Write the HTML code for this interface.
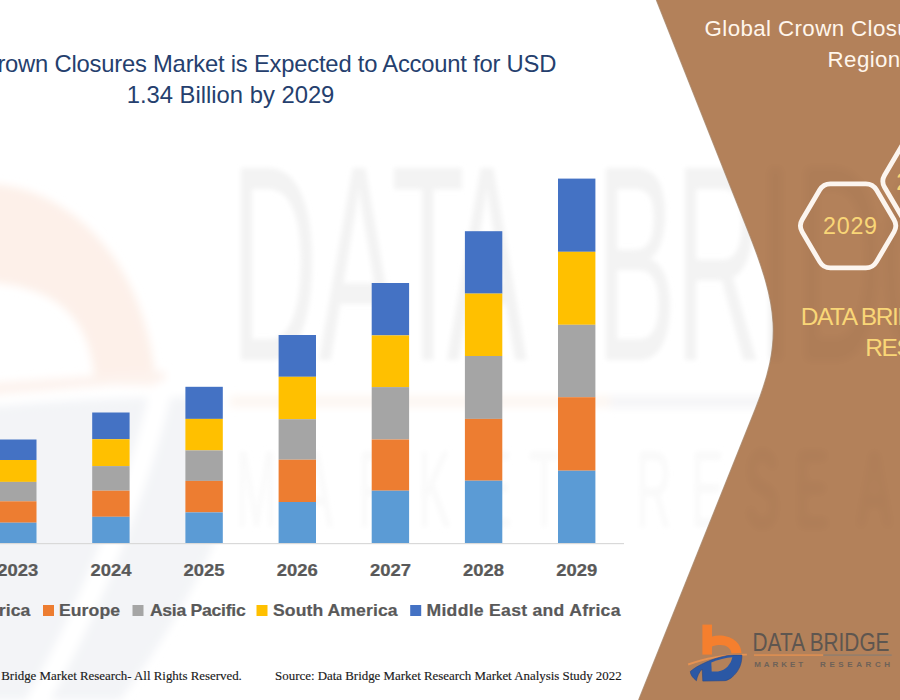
<!DOCTYPE html>
<html><head><meta charset="utf-8">
<style>
html,body{margin:0;padding:0;}
body{width:900px;height:700px;overflow:hidden;position:relative;background:#fff;}
svg{position:absolute;left:0;top:0;}
text{white-space:pre;}
</style></head>
<body>
<svg width="900" height="700" viewBox="0 0 900 700" font-family="'Liberation Sans', Arial, sans-serif">
  <defs>
    <filter id="bl" x="-20%" y="-20%" width="140%" height="140%"><feGaussianBlur stdDeviation="2.8"/></filter>
    <filter id="bl2" x="-20%" y="-20%" width="140%" height="140%"><feGaussianBlur stdDeviation="4"/></filter>
  </defs>
  <!-- faint watermark logo -->
  <g filter="url(#bl2)">
    <path d="M -10 184 C 60 186 145 250 156 385 L 95 385 C 92 320 60 288 -10 282 Z" fill="#FDF0E9"/>
    <path d="M -10 383 L 165 371 L 165 381 L -10 395 Z" fill="#FDF3EE"/>
    <path d="M -20 408 C 60 400 150 396 215 398 L 215 540 C 190 600 150 660 120 700 L -20 700 Z" fill="#F3F4F7"/>
    <path d="M 160 395 C 140 480 95 600 35 705" fill="none" stroke="#FFFFFF" stroke-width="22"/>
    <rect x="230" y="396" width="380" height="11" fill="#FDF6F1"/>
    <rect x="610" y="396" width="290" height="12" fill="#F5F5F7"/>
  </g>
  <g filter="url(#bl)">
    <text transform="scale(0.43 1)" y="360" x="537.58 741.32 910.01 1038.99 1386.42 1570.14 1764.95 1851.53 2044.11" font-size="279" fill="#F3F3F3">DATABRIDG</text>
    <text transform="scale(0.45 1)" y="527" x="524.39 666.45 795.5 928.84 1064.39 1175.33 1413.28 1535.5 1657.27 1768.84 1906.45" font-size="109" fill="#F9F9F9">MARKETRESEA</text>
  </g>
  <!-- brown panel -->
  <path d="M 656.4 0 L 748.08 230.94 C 778.04 306.41 782.56 341.18 755.15 409.54 L 638.67 700 L 900 700 L 900 0 Z" fill="#B3815A"/>
  <path d="M 656.4 0 L 748.08 230.94 C 778.04 306.41 782.56 341.18 755.15 409.54 L 638.67 700" fill="none" stroke="#A88466" stroke-width="1.2" opacity="0.8"/>
  <!-- watermark letters over brown (faint) -->
  <g filter="url(#bl2)" opacity="0.028">
    <text transform="scale(0.43 1)" y="360" x="1764.95 1851.53 2044.11" font-size="279" fill="#000">IDG</text>
    <text transform="scale(0.45 1)" y="527" x="1657.27 1768.84 1906.45" font-size="109" fill="#000">SEA</text>
  </g>

  <!-- title -->
  <g font-size="23.8" fill="#253F6E">
    <text x="556.2" y="71.7" text-anchor="end" letter-spacing="-0.22">Global Crown Closures Market is Expected to Account for USD</text>
    <text x="230.5" y="103.3" text-anchor="middle">1.34 Billion by 2029</text>
  </g>

  <!-- axis -->
  <rect x="0" y="543" width="624" height="1.2" fill="#D9D9D9"/>
  <!-- bars -->
<rect x="-0.9" y="439.5" width="37.4" height="20.5" fill="#4472C4"/>
<rect x="-0.9" y="460.0" width="37.4" height="21.9" fill="#FFC000"/>
<rect x="-0.9" y="481.9" width="37.4" height="19.4" fill="#A5A5A5"/>
<rect x="-0.9" y="501.3" width="37.4" height="21.4" fill="#ED7D31"/>
<rect x="-0.9" y="522.7" width="37.4" height="20.3" fill="#5B9BD5"/>
<rect x="92.2" y="412.5" width="37.4" height="26.7" fill="#4472C4"/>
<rect x="92.2" y="439.2" width="37.4" height="26.9" fill="#FFC000"/>
<rect x="92.2" y="466.1" width="37.4" height="24.6" fill="#A5A5A5"/>
<rect x="92.2" y="490.7" width="37.4" height="26.1" fill="#ED7D31"/>
<rect x="92.2" y="516.8" width="37.4" height="26.2" fill="#5B9BD5"/>
<rect x="185.4" y="386.8" width="37.4" height="32.1" fill="#4472C4"/>
<rect x="185.4" y="418.9" width="37.4" height="31.5" fill="#FFC000"/>
<rect x="185.4" y="450.4" width="37.4" height="30.5" fill="#A5A5A5"/>
<rect x="185.4" y="480.9" width="37.4" height="31.5" fill="#ED7D31"/>
<rect x="185.4" y="512.4" width="37.4" height="30.6" fill="#5B9BD5"/>
<rect x="278.6" y="335.0" width="37.4" height="41.8" fill="#4472C4"/>
<rect x="278.6" y="376.8" width="37.4" height="42.4" fill="#FFC000"/>
<rect x="278.6" y="419.2" width="37.4" height="40.5" fill="#A5A5A5"/>
<rect x="278.6" y="459.7" width="37.4" height="42.3" fill="#ED7D31"/>
<rect x="278.6" y="502.0" width="37.4" height="41.0" fill="#5B9BD5"/>
<rect x="371.7" y="283.0" width="37.4" height="52.4" fill="#4472C4"/>
<rect x="371.7" y="335.4" width="37.4" height="51.7" fill="#FFC000"/>
<rect x="371.7" y="387.1" width="37.4" height="52.4" fill="#A5A5A5"/>
<rect x="371.7" y="439.5" width="37.4" height="51.2" fill="#ED7D31"/>
<rect x="371.7" y="490.7" width="37.4" height="52.3" fill="#5B9BD5"/>
<rect x="464.9" y="231.2" width="37.4" height="62.4" fill="#4472C4"/>
<rect x="464.9" y="293.6" width="37.4" height="62.4" fill="#FFC000"/>
<rect x="464.9" y="356.0" width="37.4" height="62.9" fill="#A5A5A5"/>
<rect x="464.9" y="418.9" width="37.4" height="61.8" fill="#ED7D31"/>
<rect x="464.9" y="480.7" width="37.4" height="62.3" fill="#5B9BD5"/>
<rect x="558.0" y="178.6" width="37.4" height="73.2" fill="#4472C4"/>
<rect x="558.0" y="251.8" width="37.4" height="73.0" fill="#FFC000"/>
<rect x="558.0" y="324.8" width="37.4" height="72.4" fill="#A5A5A5"/>
<rect x="558.0" y="397.2" width="37.4" height="73.5" fill="#ED7D31"/>
<rect x="558.0" y="470.7" width="37.4" height="72.3" fill="#5B9BD5"/>

  <!-- years -->
  <g font-size="17" font-weight="bold" fill="#595959" stroke="#595959" stroke-width="0.25">
<text transform="translate(17.80 576.4) scale(1.085 1)" text-anchor="middle">2023</text>
<text transform="translate(110.95 576.4) scale(1.085 1)" text-anchor="middle">2024</text>
<text transform="translate(204.10 576.4) scale(1.085 1)" text-anchor="middle">2025</text>
<text transform="translate(297.25 576.4) scale(1.085 1)" text-anchor="middle">2026</text>
<text transform="translate(390.40 576.4) scale(1.085 1)" text-anchor="middle">2027</text>
<text transform="translate(483.55 576.4) scale(1.085 1)" text-anchor="middle">2028</text>
<text transform="translate(576.70 576.4) scale(1.085 1)" text-anchor="middle">2029</text>
  </g>

  <!-- legend -->
  <g font-size="16.3" font-weight="bold" fill="#595959" stroke="#595959" stroke-width="0.2">
    <rect x="-114" y="605" width="11" height="11" fill="#5B9BD5" stroke="none"/>
    <text transform="translate(30.5 615.8) scale(1.08 1)" text-anchor="end" letter-spacing="0.1">North America</text>
    <rect x="43" y="605" width="11" height="11" fill="#ED7D31" stroke="none"/>
    <text transform="translate(58.9 615.8) scale(1.08 1)" letter-spacing="0.1">Europe</text>
    <rect x="132.5" y="605" width="11" height="11" fill="#A5A5A5" stroke="none"/>
    <text transform="translate(149.9 615.8) scale(1.08 1)" letter-spacing="-0.25">Asia Pacific</text>
    <rect x="256.5" y="605" width="11" height="11" fill="#FFC000" stroke="none"/>
    <text transform="translate(273 615.8) scale(1.08 1)" letter-spacing="0.08">South America</text>
    <rect x="410.2" y="605" width="11" height="11" fill="#4472C4" stroke="none"/>
    <text transform="translate(426.5 615.8) scale(1.08 1)" letter-spacing="0.26">Middle East and Africa</text>
  </g>

  <!-- footer -->
  <g font-family="'Liberation Serif', 'Times New Roman', serif" font-size="12.9" fill="#1a1a1a" stroke="#1a1a1a" stroke-width="0.15">
    <text x="241.8" y="679.6" text-anchor="end">© Data Bridge Market Research- All Rights Reserved.</text>
    <text x="275.1" y="679.7">Source: Data Bridge Market Research Market Analysis Study 2022</text>
  </g>

  <!-- right panel texts -->
  <g font-size="22.3" fill="#FFF6EC" letter-spacing="0.4">
    <text x="704.6" y="35.6">Global Crown Closures Market, By</text>
    <text x="827.6" y="66.9">Regions</text>
  </g>
  <!-- hexagons -->
  <g fill="none" stroke="#FCF5EF" stroke-width="4.8" stroke-linejoin="round">
    <path d="M 802.15 231.88 Q 798.60 225.85 802.15 219.82 L 819.80 189.83 Q 823.35 183.80 830.35 183.80 L 865.85 183.80 Q 872.85 183.80 876.40 189.83 L 894.05 219.82 Q 897.60 225.85 894.05 231.88 L 876.40 261.87 Q 872.85 267.90 865.85 267.90 L 830.35 267.90 Q 823.35 267.90 819.80 261.87 Z"/>
    <path d="M 884.55 187.33 Q 881.00 181.30 884.55 175.27 L 902.20 145.28 Q 905.75 139.25 912.75 139.25 L 948.25 139.25 Q 955.25 139.25 958.80 145.28 L 976.45 175.27 Q 980.00 181.30 976.45 187.33 L 958.80 217.32 Q 955.25 223.35 948.25 223.35 L 912.75 223.35 Q 905.75 223.35 902.20 217.32 Z"/>
  </g>
  <g font-size="23.3" fill="#F9D677" letter-spacing="0.7">
    <text x="823.1" y="234">2029</text>
    <text x="896.2" y="189.5">2022</text>
  </g>
  <g font-size="24.5" fill="#F9D677" letter-spacing="-1.4">
    <text x="800.7" y="324.9">DATA BRIDGE MARKET</text>
    <text x="865.3" y="355.6">RESEARCH</text>
  </g>

  <!-- logo -->
  <g transform="translate(680 615)">
    <rect x="22.4" y="9.6" width="9.6" height="30" fill="#F57F2E"/>
    <path d="M 32 21.5 C 46 18, 61 25, 61.5 38 L 51.5 38.5 C 50.5 31, 43 28, 32 31.5 Z" fill="#F57F2E"/>
    <path d="M 7.8 48.6 C 25 42.5, 45 38.6, 66.9 38.8 L 66.9 40.6 C 45 40.5, 26 44, 8.5 50.6 Z" fill="#EC9350" opacity="0.9"/>
    <path d="M 10.3 56.5 C 17 50.5, 33 43, 47.7 40.5 C 54 40, 59 40, 61.9 40.1 C 62 47, 60 56, 51.2 62.9 C 48 65, 46 65.7, 44.1 65.7 L 22.8 66.1 L 22.2 54 C 19 57, 17 62, 16.4 65.7 C 13 63, 10.5 60, 10.3 56.5 Z" fill="#2B58A5" stroke="#24478A" stroke-width="0.6"/>
    <path d="M 31.3 47.5 C 38 44.5, 46 42.5, 52.3 42.2 C 51 49, 46 55, 38 56.5 L 31.7 56.5 Z" fill="#B3815A"/>
    <text x="72.6" y="35.8" font-size="25.4" fill="#5E5650" transform="translate(72.6 0) scale(0.82 1) translate(-72.6 0)">DATA BRIDGE</text>
    <rect x="74" y="39.4" width="69.3" height="1.4" fill="#E39152"/>
    <rect x="143.3" y="39.4" width="68.4" height="1.4" fill="#8E7E70"/>
    <text x="74.3" y="52.4" font-size="8" font-weight="bold" fill="#6E6258" letter-spacing="2.9">MARKET</text>
    <text x="140" y="52.4" font-size="8" font-weight="bold" fill="#6E6258" letter-spacing="3.6">RESEARCH</text>
  </g>
</svg>
</body></html>
